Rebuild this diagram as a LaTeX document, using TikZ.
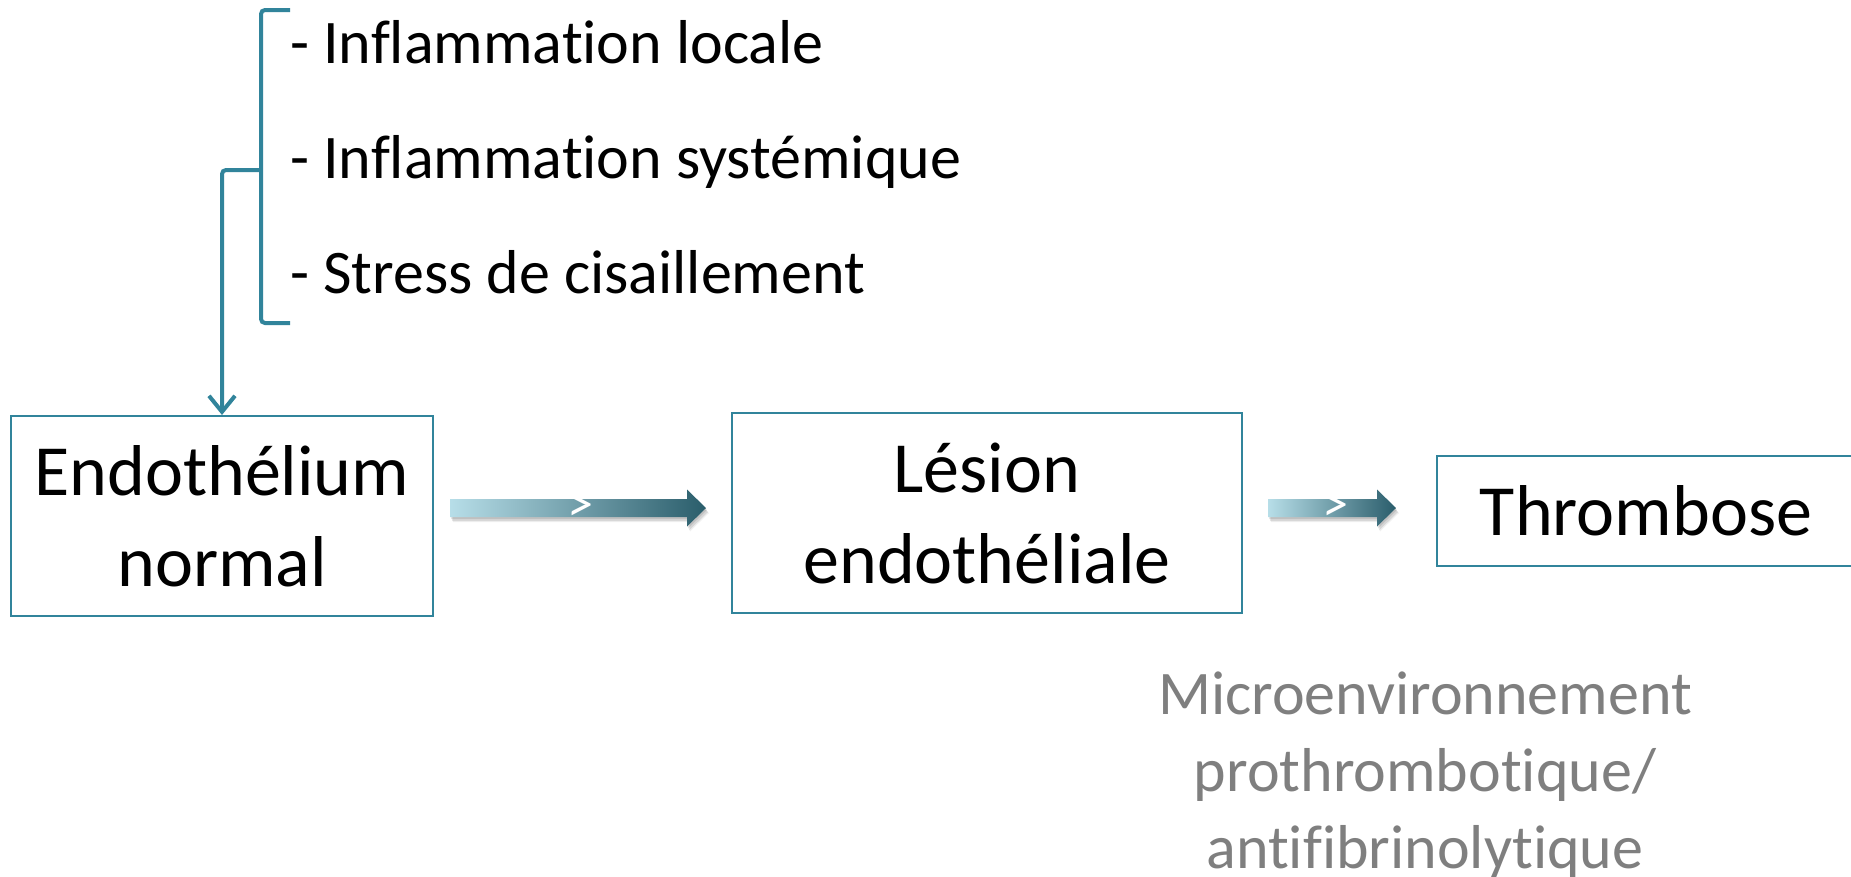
\documentclass[tikz,border=0pt]{standalone}
\usepackage{fontspec}
\setmainfont{Carlito}[Ligatures=NoCommon]
\usetikzlibrary{arrows.meta,calc}

\definecolor{accentblue}{HTML}{31849B}
\definecolor{arrowlight}{HTML}{B7DEE8}
\definecolor{arrowdark}{HTML}{2A5D6B}
\definecolor{notegrey}{HTML}{7F7F7F}

% shaded block arrow from #1 to #2 (same height), shaft 18, head 37 wide, 19 long
\newcommand\blockarrow[2]{%
  \foreach \dx/\dy/\op in {1/2/0.10, 2/4/0.10, 3/5/0.06}{%
    \fill[black, opacity=\op]
      ($(#1)+(\dx,\dy-9)$) -- ($(#2)+(\dx-19,\dy-9)$) -- ($(#2)+(\dx-19,\dy-18.5)$) --
      ($(#2)+(\dx,\dy)$) -- ($(#2)+(\dx-19,\dy+18.5)$) -- ($(#2)+(\dx-19,\dy+9)$) --
      ($(#1)+(\dx,\dy+9)$) -- cycle;}
  \shade[left color=arrowlight, right color=arrowdark]
    ($(#1)+(0,-9)$) -- ($(#2)+(-19,-9)$) -- ($(#2)+(-19,-18.5)$) -- (#2) --
    ($(#2)+(-19,18.5)$) -- ($(#2)+(-19,9)$) -- ($(#1)+(0,9)$) -- cycle;
}

\begin{document}
\begin{tikzpicture}[x=1pt, y=-1pt,
  box/.style={draw=accentblue, line width=2pt, fill=white, align=center,
    inner sep=0pt, font=\fontsize{72}{91}\selectfont},
  item/.style={anchor=base west, inner sep=0pt, font=\fontsize{62}{75}\selectfont},
  note/.style={text=notegrey, align=center, inner sep=0pt,
    font=\fontsize{62}{77}\selectfont},
  gtmark/.style={text=white, inner sep=0pt, font=\fontsize{52}{52}\selectfont},
  bracket/.style={draw=accentblue, line width=4pt, rounded corners=4pt}]

\clip (0,0) rectangle (1851,876);
\fill[white] (0,0) rectangle (1851,876);

% the three stages
\node[box, minimum width=422, minimum height=200] (b1) at (222,516) {Endothélium\\normal};
\node[box, minimum width=510, minimum height=200] (b2) at (987,513) {Lésion\\endothéliale};
\node[box, minimum width=418, minimum height=110] (b3) at (1646,511) {Thrombose};

% triggering factors
\node[item] (i1) at (290,63)  {- Inflammation locale};
\node[item] (i2) at (290,178) {- Inflammation systémique};
\node[item] (i3) at (290,293) {- Stress de cisaillement};

% bracket grouping the factors, feeding the first stage
\coordinate (bt) at (290,10);
\coordinate (bb) at (290,323);
\coordinate (bm) at (261,170);
\draw[bracket] (bt) -- (261,10) -- (261,323) -- (bb);
\draw[bracket, -{Straight Barb[length=16pt, width=26pt, line width=4pt]}]
  (bm) -| (b1.north);

% shaded arrows between stages
\coordinate (a1s) at ($(b1.east)+(16,-8)$);
\coordinate (a1e) at ($(b2.west)+(-25,-5)$);
\coordinate (a2s) at ($(b2.east)+(25,-5)$);
\coordinate (a2e) at ($(b3.west)+(-40,-3)$);
\blockarrow{a1s}{a1e}
\blockarrow{a2s}{a2e}
\node[gtmark] (g1) at (580,508) {>};
\node[gtmark] (g2) at (1335,508) {>};

% context note below the last two stages
\node[note, anchor=base] (n1) at (1425,868)
  {Microenvironnement\\prothrombotique/\\antifibrinolytique};
\end{tikzpicture}
\end{document}
